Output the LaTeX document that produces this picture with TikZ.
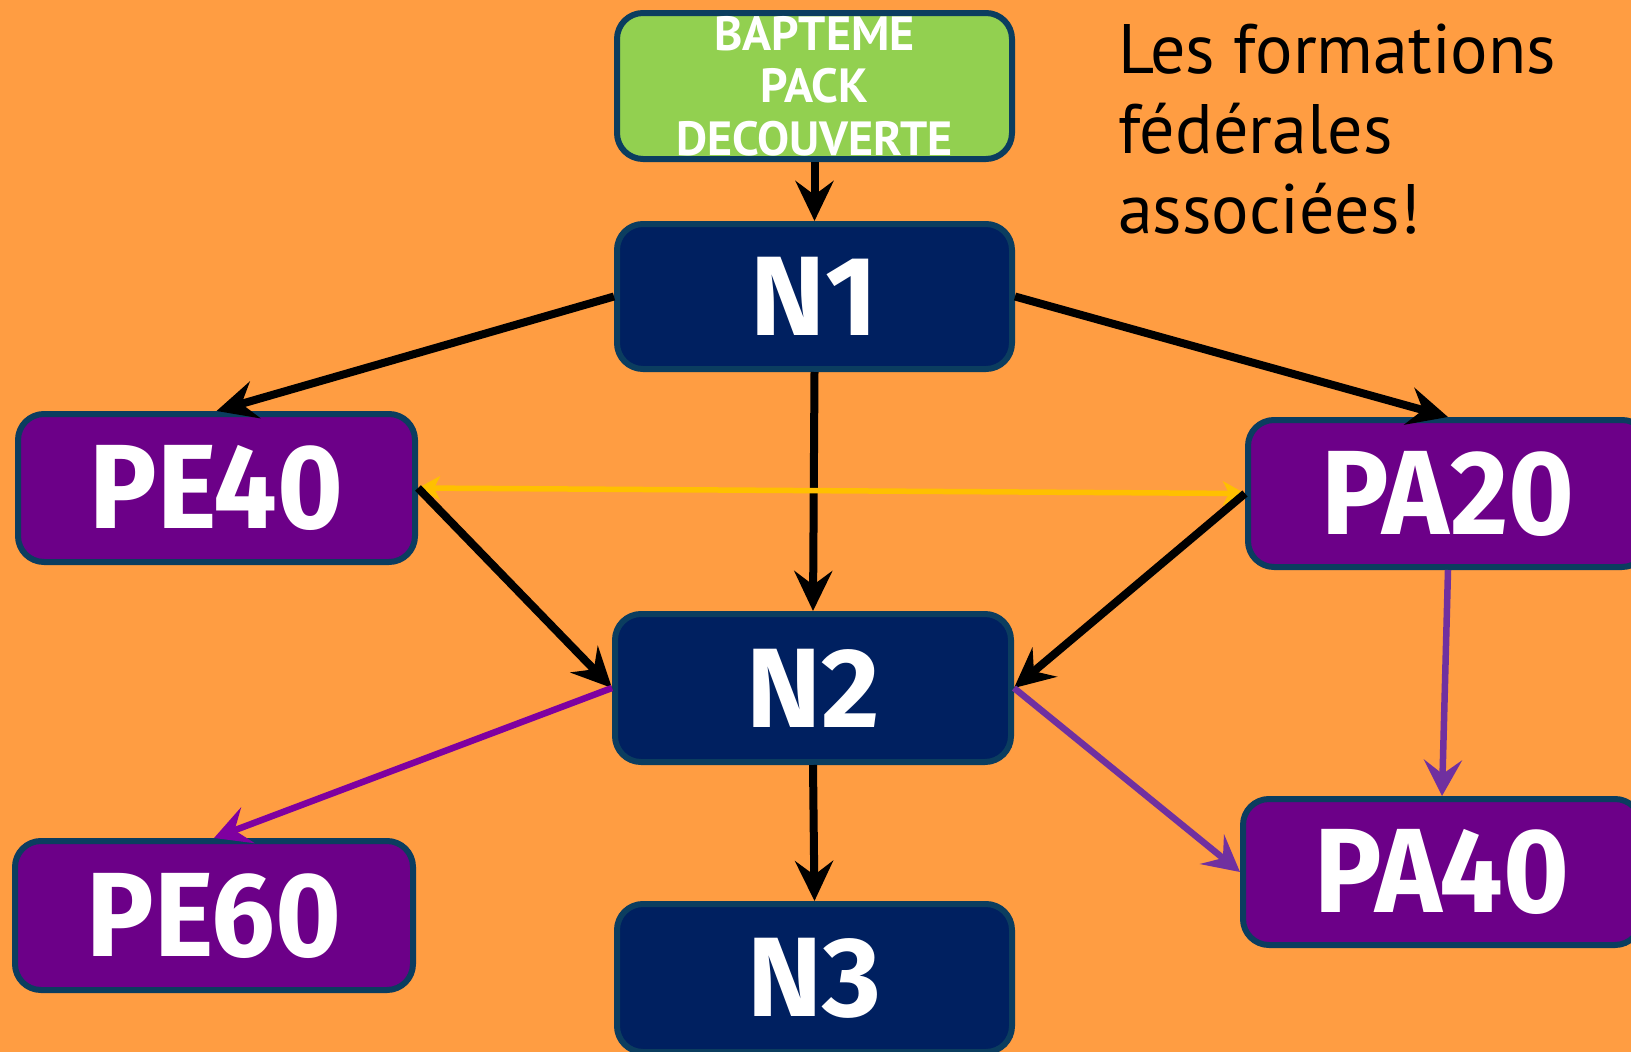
\documentclass[tikz,border=0pt]{standalone}
\usepackage{fontspec}
\usepackage{graphicx}
\setmainfont{PT Sans}
\newfontfamily\boxfont{Fira Sans}
\usetikzlibrary{arrows.meta}
\definecolor{bgor}{HTML}{FF9D42}
\definecolor{grn}{HTML}{92D050}
\definecolor{navy}{HTML}{002060}
\definecolor{purp}{HTML}{6C0088}
\definecolor{edgeteal}{HTML}{0B3D5F}
\definecolor{ylw}{HTML}{FFC000}
\definecolor{vio}{HTML}{7030A0}
\definecolor{mag}{HTML}{7F00A0}
\newcommand{\narrowtxt}[1]{\scalebox{0.94}[1]{#1}}
\tikzset{
  box/.style={draw=edgeteal, line width=6pt, rounded corners=26pt, text=white,
    font=\boxfont\bfseries\fontsize{113}{113}\selectfont, inner sep=0pt},
  navybox/.style={box, fill=navy},
  purpbox/.style={box, fill=purp, font=\boxfont\bfseries\fontsize{120}{120}\selectfont},
  blk/.style={line width=8pt, black, -{Stealth[length=40pt,width=38pt,inset=14pt]}},
  violet/.style={line width=6.5pt, vio, -{Stealth[length=36pt,width=38pt,inset=14pt]}},
  magenta/.style={line width=6.5pt, mag, -{Stealth[length=36pt,width=38pt,inset=14pt]}},
  yel/.style={line width=5.5pt, ylw, {Stealth[length=22pt,width=24pt,inset=6pt]}-{Stealth[length=22pt,width=24pt,inset=6pt]}},
}
\begin{document}
\begin{tikzpicture}[x=1pt,y=-1pt]
\useasboundingbox (0,0) rectangle (1631,1052);
\fill[bgor] (0,0) rectangle (1631,1052);
\node[box, fill=grn, minimum width=395pt, minimum height=146pt, font=\bfseries\fontsize{48}{54.5}\selectfont, align=center] (bap) at (814.5,86) {BAPTEME\\[-2pt] PACK\\[-2pt] DECOUVERTE};
\node[navybox, minimum width=395pt, minimum height=145pt] (n1) at (814.5,296.5) {N1};
\node[purpbox, minimum width=397pt, minimum height=148pt] (pe40) at (216.5,488) {\narrowtxt{PE40}};
\node[purpbox, minimum width=400pt, minimum height=147pt] (pa20) at (1448,493.5) {\narrowtxt{PA20}};
\node[navybox, minimum width=396pt, minimum height=148pt] (n2) at (813,688) {N2};
\node[purpbox, minimum width=398pt, minimum height=149pt] (pe60) at (214,915.5) {\narrowtxt{PE60}};
\node[purpbox, minimum width=398pt, minimum height=146pt] (pa40) at (1442,872) {\narrowtxt{PA40}};
\node[navybox, minimum width=395pt, minimum height=148pt] (n3) at (814.5,978) {N3};
\node[anchor=north west, align=left, font=\fontsize{70}{80}\selectfont, inner sep=0pt] (title) at (1118,24) {Les formations\\ fédérales\\ associées!};
\draw[blk] (bap.south) -- (n1.north);
\draw[blk] (n1.west) -- (pe40.north);
\draw[blk] (n1.east) -- (pa20.north);
\draw[blk] (n1.south) -- (n2.north);
\draw[yel] (pe40.east) -- (pa20.west);
\draw[blk] (pe40.east) -- (n2.west);
\draw[blk] (pa20.west) -- (n2.east);
\draw[violet] (pa20.south) -- (pa40.north);
\draw[magenta] (n2.west) -- (pe60.north);
\draw[violet] (n2.east) -- (pa40.west);
\draw[blk] (n2.south) -- (n3.north);
\end{tikzpicture}
\end{document}
